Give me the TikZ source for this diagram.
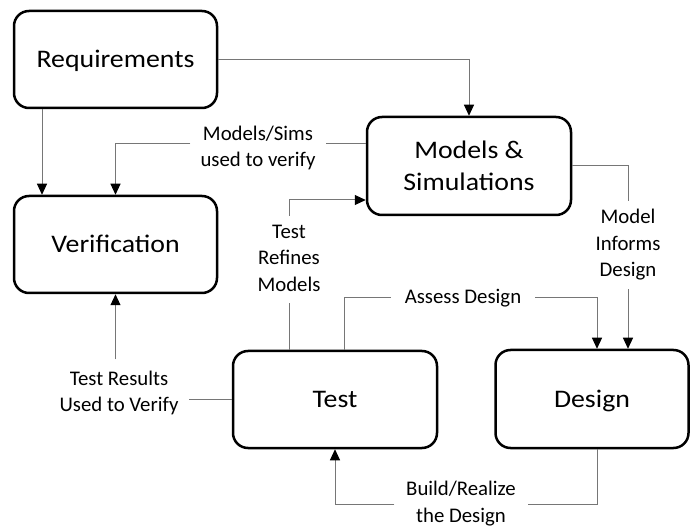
\documentclass[tikz,border=0pt]{standalone}
\usepackage{fontspec}
\setmainfont{Carlito}
\newfontfamily\boxfam{Carlito}[FakeStretch=1.10]
\usetikzlibrary{arrows.meta}
\definecolor{conngray}{RGB}{118,118,118}
\newcommand\lblfont{\fontsize{20.8}{26.5}\selectfont}
\newcommand\bxfont{\boxfam\fontsize{25.3}{31.7}\selectfont}
\begin{document}
\begin{tikzpicture}[x=1pt,y=-1pt,
  box/.style={draw=black, line width=2.5pt, rounded corners=15pt, font=\bxfont,
    minimum width=203pt, minimum height=97pt, inner sep=0pt},
  onebox/.style={box, text height=16pt, text depth=0pt},
  lbl/.style={font=\lblfont, align=center, inner xsep=10pt, inner ysep=4pt},
  conn/.style={draw=conngray, line width=1pt},
  arr/.style={conn, -{Triangle[width=10pt,length=11pt,color=black]}}
]
\fill[white] (0,0) rectangle (691,529);
\useasboundingbox (0,0) rectangle (691,529);

% boxes
\node[onebox] (req) at (115.5,59.5) {Requirements};
\node[onebox] (ver) at (115.5,244.5) {Verification};
\node[box, align=center, minimum width=204pt, minimum height=98pt] (ms) at (469,166) {Models \&\\Simulations};
\node[onebox, minimum width=204pt] (test) at (335,399.5) {Test};
\node[onebox, minimum width=193pt, minimum height=98pt] (des) at (592,399) {Design};

% labels
\node[lbl] (lA) at (258,148) {\strut Models/Sims\\\strut used to verify};
\node[lbl] (lB) at (289,259.5) {\strut Test\\\strut Refines\\\strut Models};
\node[lbl, inner xsep=13.8pt] (lC) at (463,298) {\strut Assess Design};
\node[lbl] (lD) at (628,245.2) {\strut Model\\\strut Informs\\\strut Design};
\node[lbl, inner xsep=11.5pt, inner ysep=1pt] (lE) at (461,501.5) {\strut Build/Realize\\the Design};
\node[lbl, inner xsep=10.75pt, inner ysep=7pt] (lF) at (119,393) {\strut Test Results\\\strut Used to Verify};

% route coordinates
\coordinate (x42) at (42,0);
\coordinate (x289) at (289,0);
\coordinate (x344) at (344,0);
\coordinate (x597) at (597,0);
\coordinate (y144) at (0,144);
\coordinate (y200) at (0,200);
\coordinate (y504) at (0,504);

% connectors
\draw[arr] (req.east) -| (ms.north);
\draw[arr] (req.south -| x42) -- (ver.north -| x42);
\draw[conn] (ms.west |- y144) -- (lA.east |- y144);
\draw[arr] (lA.west |- y144) -| (ver.north);
\draw[conn] (test.north -| x289) -- (lB.south);
\draw[arr] (lB.north) |- (ms.west |- y200);
\draw[conn] (test.north -| x344) |- (lC.west);
\draw[arr] (lC.east) -| (des.north -| x597);
\draw[conn] (ms.east) -| (lD.north);
\draw[arr] (lD.south) -- (des.north -| lD.south);
\draw[conn] (des.south -| x597) |- (lE.east |- y504);
\draw[arr] (lE.west |- y504) -| (test.south);
\draw[conn] (test.west) -- (lF.east |- test.west);
\draw[arr] (ver.south |- lF.north) -- (ver.south);
\end{tikzpicture}
\end{document}
